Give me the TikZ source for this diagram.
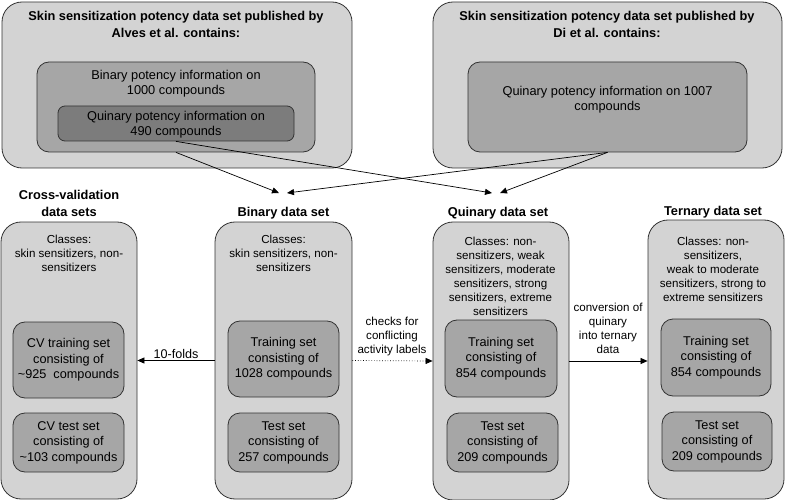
\documentclass[tikz,border=0pt]{standalone}
\usepackage{fontspec}
\setmainfont{Liberation Sans}
\usetikzlibrary{arrows.meta}
\definecolor{outerg}{HTML}{D3D3D3}
\definecolor{innerg}{HTML}{A6A6A6}
\definecolor{darkg}{HTML}{7C7C7C}
\definecolor{edgeg}{HTML}{333333}
\tikzset{
  box/.style={draw=edgeg, line width=0.8pt, inner sep=0pt},
  outerbox/.style={box, fill=outerg, rounded corners=20pt},
  innerbox/.style={box, fill=innerg, rounded corners=12pt},
  darkbox/.style={box, fill=darkg, rounded corners=7pt},
  setbox/.style={box, fill=innerg, rounded corners=12pt, align=center,
    font=\fontsize{12.7}{15.5}\selectfont},
  title/.style={font=\fontsize{12.8}{16.5}\selectfont\bfseries, align=center, inner sep=0pt},
  bigtxt/.style={font=\fontsize{12.8}{15}\selectfont, align=center, inner sep=0pt},
  smalltxt/.style={font=\fontsize{11.6}{14}\selectfont, align=center, inner sep=0pt},
  arr/.style={-{Triangle[length=7pt,width=6pt]}, line width=0.7pt, draw=black},
}
\begin{document}
\begin{tikzpicture}[x=1pt,y=-1pt]
\useasboundingbox (0,0) rectangle (785,500);
% top source boxes
\node[outerbox, minimum width=350, minimum height=166] (alves) at (177,85) {};
\node[title] (alvest) at (176,24.5) {Skin sensitization potency data set published by\\Alves et al. contains:};
\node[innerbox, minimum width=278, minimum height=90] (alvesbin) at (176,107) {};
\node[bigtxt] (alvesbint) at (176,84) {Binary potency information on\\1000 compounds};
\node[darkbox, minimum width=236, minimum height=35] (alvesquin) at (176,123.5) {};
\node[bigtxt] (alvesquint) at (176,124.5) {Quinary potency information on\\490 compounds};
\node[outerbox, minimum width=349, minimum height=166] (di) at (607.5,85) {};
\node[title] (dit) at (607,24.5) {Skin sensitization potency data set published by\\Di et al. contains:};
\node[innerbox, minimum width=279, minimum height=90] (diquin) at (607.5,107) {};
\node[bigtxt] (diquint) at (607.5,100) {Quinary potency information on 1007\\compounds};
% column titles
\node[title] (cvt) at (69,203.5) {Cross-validation\\data sets};
\node[title] (bint) at (283.5,213) {Binary data set};
\node[title] (quint) at (498,213) {Quinary data set};
\node[title] (ternt) at (713,212) {Ternary data set};
% columns
\node[outerbox, minimum width=136, minimum height=277] (cv) at (69,360.5) {};
\node[outerbox, minimum width=137, minimum height=277] (bin) at (283.5,360.5) {};
\node[outerbox, minimum width=136, minimum height=278] (quin) at (501,361) {};
\node[outerbox, minimum width=136, minimum height=279] (tern) at (716,359.5) {};
\node[smalltxt] (cvc) at (69,253) {Classes:\\skin sensitizers, non-\\sensitizers};
\node[smalltxt] (binc) at (283.5,253) {Classes:\\skin sensitizers, non-\\sensitizers};
\node[smalltxt] (quinc) at (500.5,276) {Classes: non-\\sensitizers, weak\\sensitizers, moderate\\sensitizers, strong\\sensitizers, extreme\\sensitizers};
\node[smalltxt] (ternc) at (713,269) {Classes: non-\\sensitizers,\\weak to moderate\\sensitizers, strong to\\extreme sensitizers};
\node[setbox, minimum width=111, minimum height=76] (cvtr) at (68.5,360) {CV training set\\consisting of\\\textasciitilde925~ compounds};
\node[setbox, minimum width=111, minimum height=59] (cvte) at (68.5,442.5) {CV test set\\consisting of\\\textasciitilde103 compounds};
\node[setbox, minimum width=111, minimum height=76] (bintr) at (283.5,359) {Training set\\consisting of\\1028 compounds};
\node[setbox, minimum width=111, minimum height=59] (binte) at (283.5,442.5) {Test set\\consisting of\\257 compounds};
\node[setbox, minimum width=112, minimum height=77] (quintr) at (501,358.5) {Training set\\consisting of\\854 compounds};
\node[setbox, minimum width=111, minimum height=59] (quinte) at (502.5,442.5) {Test set\\consisting of\\209 compounds};
\node[setbox, minimum width=110, minimum height=77] (terntr) at (716,357.5) {Training set\\consisting of\\854 compounds};
\node[setbox, minimum width=110, minimum height=59] (ternte) at (717,441.5) {Test set\\consisting of\\209 compounds};
% arrow targets
\coordinate (bt1) at (279,193);
\coordinate (bt2) at (287,193);
\coordinate (qt1) at (492,193);
\coordinate (qt2) at (500,193);
\draw[arr] (alvesbin.south) -- (bt1);
\draw[arr] (alvesquin.south) -- (qt1);
\draw[arr] (diquin.south) -- (bt2);
\draw[arr] (diquin.south) -- (qt2);
% horizontal arrows
\draw[arr] (bin.west) -- (cv.east) node[pos=0.5, above=2pt, smalltxt, font=\fontsize{12.6}{14}\selectfont] (tenf) {10-folds};
\draw[arr, dotted] (bin.east) -- (quin.west);
\node[smalltxt] (checks) at (392,336.5) {checks for\\conflicting\\activity labels};
\draw[arr] (quin.east) -- (quin.east -| tern.west);
\node[smalltxt] (conv) at (608,328) {conversion of\\quinary\\into ternary\\data};
\end{tikzpicture}
\end{document}
